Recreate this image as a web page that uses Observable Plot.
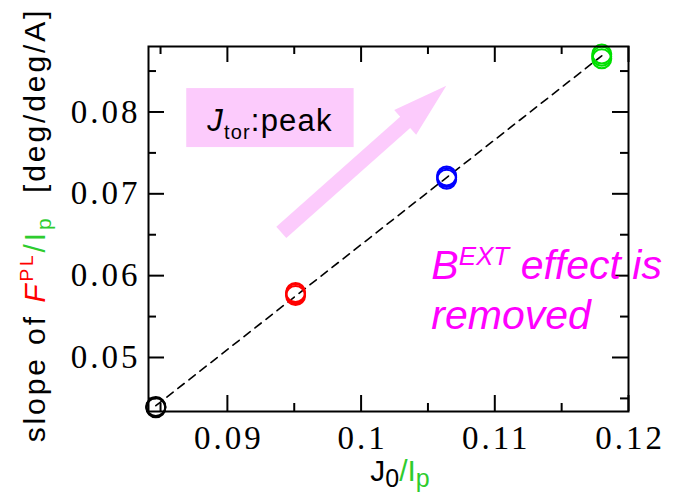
<!DOCTYPE html>
<html>
<head>
<meta charset="utf-8">
<script src="https://cdn.jsdelivr.net/npm/d3@7"></script>
<script src="https://cdn.jsdelivr.net/npm/@observablehq/plot@0.6"></script>
<style>
  body { margin: 0; background: #fff; }
  #chart svg { display: block; background: #fff; overflow: visible; }
  #chart svg g[aria-label="text"] text { letter-spacing: 3px; }
  .rich { white-space: pre; }
</style>
</head>
<body>
<div id="chart"></div>
<script>
// Slope of the polarimetry angle per plasma current, versus J0/Ip.
// Four discharge groups, several overlapping repeats each.
const groupColor = ["#000000", "#ff0000", "#0000ff", "#00e000"];
const ratio = [0.08465, 0.0951, 0.1064, 0.1180];
const slopes = [
  [0.04385, 0.04393, 0.04400],
  [0.05758, 0.05778, 0.05795],
  [0.07177, 0.07198, 0.07219],
  [0.08650, 0.08680, 0.08707]
];

const xMajor = [0.09, 0.10, 0.11, 0.12];
const xMinor = [0.085, 0.095, 0.105, 0.115];
const yMajor = [0.05, 0.06, 0.07, 0.08];
const yMinor = [0.045, 0.055, 0.065, 0.075, 0.085];
const xDomain = [0.0841, 0.12];
const yDomain = [0.0434, 0.0880];

// annotation anchors, in data units
const boxX = [0.08696, 0.09948];
const boxY = [0.07565, 0.08286];
const arrowTail = [0.09407, 0.06522];
const arrowTip = [0.10641, 0.08314];
const noteAnchor = [0.10529, 0.05947];

const points = [];
ratio.forEach((r, i) => slopes[i].forEach(s => points.push({r, s, c: groupColor[i]})));

const W = 687, H = 492;
const mL = 148, mR = 59, mT = 46, mB = 81;
const innerW = W - mL - mR, innerH = H - mT - mB;
const major = 16, minor = 8;

const chart = Plot.plot({
  width: W, height: H,
  marginLeft: mL, marginRight: mR, marginTop: mT, marginBottom: mB,
  x: {domain: xDomain, axis: null},
  y: {domain: yDomain, axis: null},
  marks: [
    // inward ticks on all four sides
    Plot.ruleX(xMajor, {x: d => d, insetTop: innerH - major, stroke: "#000", strokeWidth: 2}),
    Plot.ruleX(xMajor, {x: d => d, insetBottom: innerH - major, stroke: "#000", strokeWidth: 2}),
    Plot.ruleX(xMinor, {x: d => d, insetTop: innerH - minor, stroke: "#000", strokeWidth: 2}),
    Plot.ruleX(xMinor, {x: d => d, insetBottom: innerH - minor, stroke: "#000", strokeWidth: 2}),
    Plot.ruleY(yMajor, {y: d => d, insetRight: innerW - major, stroke: "#000", strokeWidth: 2}),
    Plot.ruleY(yMajor, {y: d => d, insetLeft: innerW - major, stroke: "#000", strokeWidth: 2}),
    Plot.ruleY(yMinor, {y: d => d, insetRight: innerW - minor, stroke: "#000", strokeWidth: 2}),
    Plot.ruleY(yMinor, {y: d => d, insetLeft: innerW - minor, stroke: "#000", strokeWidth: 2}),
    // linear fit through all repeats
    Plot.linearRegressionY(points, {x: "r", y: "s", ci: 0, stroke: "#000", strokeWidth: 1.6, strokeDasharray: "8,6"}),
    Plot.dot(points, {x: "r", y: "s", r: 9.5, stroke: "c", strokeWidth: 2, fill: "none"}),
    Plot.frame({stroke: "#000", strokeWidth: 2}),
    Plot.text(xMajor, {x: d => d, y: yDomain[0], text: d => String(d), lineAnchor: "top", dy: 14, dx: 1.5,
      fontFamily: "Liberation Serif", fontSize: 33, fill: "#000"}),
    Plot.text(yMajor, {x: xDomain[0], y: d => d, text: d => String(d), textAnchor: "end", lineAnchor: "middle", dx: -8,
      fontFamily: "Liberation Serif", fontSize: 33, fill: "#000"})
  ]
});

document.getElementById("chart").appendChild(chart);

// rich-text labels and annotations placed through the chart's scales
const sx = chart.scale("x"), sy = chart.scale("y");
const X = v => sx.apply(v), Y = v => sy.apply(v);
const svg = d3.select(chart);
const frameNode = chart.querySelector('[aria-label="frame"]');
const ann = d3.create("svg:g").attr("aria-label", "annotations").attr("text-anchor", "start");
chart.insertBefore(ann.node(), frameNode);

const pink = "#fccbfc";
// label box
ann.append("rect")
  .attr("x", X(boxX[0])).attr("y", Y(boxY[1]))
  .attr("width", X(boxX[1]) - X(boxX[0])).attr("height", Y(boxY[0]) - Y(boxY[1]))
  .attr("fill", pink);

// arrow
{
  const tx = X(arrowTail[0]), ty = Y(arrowTail[1]);
  const px = X(arrowTip[0]), py = Y(arrowTip[1]);
  const len = Math.hypot(px - tx, py - ty);
  const ux = (px - tx) / len, uy = (py - ty) / len;
  const nx = -uy, ny = ux;
  const headL = 55, headW = 16.5, shaftW = 7.5;
  const bx = px - ux * headL, by = py - uy * headL;
  const pts = [
    [tx + nx * shaftW, ty + ny * shaftW],
    [bx + nx * shaftW, by + ny * shaftW],
    [bx + nx * headW, by + ny * headW],
    [px, py],
    [bx - nx * headW, by - ny * headW],
    [bx - nx * shaftW, by - ny * shaftW],
    [tx - nx * shaftW, ty - ny * shaftW]
  ];
  ann.append("polygon").attr("points", pts.map(p => p.join(",")).join(" ")).attr("fill", pink);
}

// box text
{
  const t = ann.append("text").attr("class", "rich")
    .attr("x", (X(boxX[0]) + X(boxX[1])) / 2).attr("y", Y(boxY[0]) - 16)
    .attr("text-anchor", "middle").attr("letter-spacing", 1.2)
    .attr("font-family", "Liberation Sans").attr("font-size", 31).attr("fill", "#000");
  t.append("tspan").attr("font-style", "italic").text("J");
  t.append("tspan").attr("font-size", 20).attr("dy", 8).text("tor");
  t.append("tspan").attr("dy", -8).text(":peak");
}

// note
{
  const x0 = X(noteAnchor[0]), y0 = Y(noteAnchor[1]);
  const t = ann.append("text").attr("class", "rich")
    .attr("x", x0).attr("y", y0).attr("text-anchor", "start")
    .attr("font-family", "Liberation Sans").attr("font-size", 41)
    .attr("font-style", "italic").attr("fill", "#ff00ff");
  t.append("tspan").text("B");
  t.append("tspan").attr("font-size", 26).attr("dy", -14).text("EXT");
  t.append("tspan").attr("dy", 14).text(" effect is");
  t.append("tspan").attr("x", x0).attr("dy", 50).text("removed");
}

const green = "#2ecc2e";
// x-axis label
{
  const t = svg.append("text").attr("class", "rich")
    .attr("x", 400).attr("y", 481)
    .attr("text-anchor", "middle")
    .attr("font-family", "Liberation Sans").attr("font-size", 30).attr("fill", "#000");
  t.append("tspan").text("J");
  t.append("tspan").attr("font-size", 25).attr("dy", 6).text("0");
  t.append("tspan").attr("dy", -6).attr("fill", green).text("/I");
  t.append("tspan").attr("font-size", 25).attr("dy", 6).attr("fill", green).text("p");
}

// y-axis label
{
  const t = svg.append("text").attr("class", "rich")
    .attr("transform", "translate(45,225) rotate(-90)")
    .attr("text-anchor", "middle").attr("letter-spacing", 2.9)
    .attr("font-family", "Liberation Sans").attr("font-size", 30).attr("fill", "#000");
  t.append("tspan").text("slope of ");
  t.append("tspan").attr("fill", "#ff0000").attr("font-style", "italic").text("F");
  t.append("tspan").attr("fill", "#ff0000").attr("font-size", 19).attr("dy", -12).text("PL");
  t.append("tspan").attr("fill", green).attr("dy", 12).text("/I");
  t.append("tspan").attr("fill", green).attr("font-size", 21).attr("dy", 6).text("p");
  t.append("tspan").attr("dy", -6).text("  [deg/deg/A]");
}
</script>
</body>
</html>
